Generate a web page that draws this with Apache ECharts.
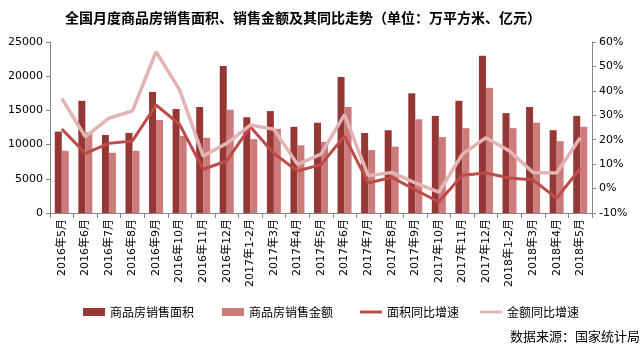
<!DOCTYPE html>
<html><head><meta charset="utf-8">
<script src="https://cdn.jsdelivr.net/npm/echarts@6/dist/echarts.min.js"></script>
<style>html,body{margin:0;padding:0;background:#fff}#c{width:644px;height:350px}</style>
</head><body><div id="c"></div>
<script>
const categories = ['2016年5月','2016年6月','2016年7月','2016年8月','2016年9月','2016年10月','2016年11月','2016年12月','2017年1-2月','2017年3月','2017年4月','2017年5月','2017年6月','2017年7月','2017年8月','2017年9月','2017年10月','2017年11月','2017年12月','2018年1-2月','2018年3月','2018年4月','2018年5月'];
const areaValues = [11900,16400,11400,11700,17700,15200,15500,21500,14000,14900,12600,13200,19900,11700,12100,17500,14200,16400,23000,14600,15500,12100,14200];
const amountValues = [9100,11800,8800,9100,13600,11300,11000,15100,10800,12300,9900,10400,15500,9200,9700,13700,11100,12400,18300,12400,13200,10500,12600];
const areaGrowth = [24.4,14.4,18.5,19.5,34.2,26.3,7.9,11.3,25.3,14.4,7.2,9.8,21.5,2.3,4.6,-0.5,-5.5,5.5,6.4,4.3,3.5,-3.9,8.2];
const amountGrowth = [36.9,21.2,28.8,31.8,56.0,40.4,13.3,18.5,26.0,24.3,9.9,14.1,30.3,5.3,6.6,2.3,-1.5,14.1,20.8,15.4,6.6,6.4,20.8];
const leftTicks = {min:0, max:25000, interval:5000};
const rightTicks = {min:-10, max:60, interval:10};

const FONT = 'DejaVu Sans, Noto Sans CJK SC, sans-serif';
const CJK = 'Noto Sans CJK SC, sans-serif';
const axisCol = '#868686';
const chart = echarts.init(document.getElementById('c'), null, {renderer:'canvas'});
chart.setOption({
  animation:false,
  title:{text:'全国月度商品房销售面积、销售金额及其同比走势（单位：万平方米、亿元）', left:60, top:6,
    textStyle:{fontFamily:CJK, fontSize:14, fontWeight:'bold', color:'#000'}},
  grid:{left:50, right:52, top:42, bottom:137},
  legend:[
    {data:['商品房销售面积','商品房销售金额'], left:78, top:301, itemWidth:22, itemHeight:8, itemGap:28, icon:'rect',
     textStyle:{fontFamily:CJK, fontSize:12, color:'#000'}},
    {data:['面积同比增速','金额同比增速'], left:355, top:301, itemWidth:22, itemHeight:3, itemGap:21, icon:'rect',
     textStyle:{fontFamily:CJK, fontSize:12, color:'#000'}}
  ],
  graphic:[{type:'text', right:4, top:330, style:{text:'数据来源：国家统计局', font:'13px "Noto Sans CJK SC"', fill:'#000'}}],
  xAxis:{type:'category', data:categories, boundaryGap:true,
    axisLine:{lineStyle:{color:axisCol}}, axisTick:{show:true, length:5, lineStyle:{color:axisCol}},
    axisLabel:{rotate:90, interval:0, fontFamily:FONT, fontSize:11, color:'#000', margin:6}},
  yAxis:[
    {type:'value', min:leftTicks.min, max:leftTicks.max, interval:leftTicks.interval, splitLine:{show:false},
     axisLine:{show:true, lineStyle:{color:axisCol}}, axisTick:{show:true, length:4, lineStyle:{color:axisCol}},
     axisLabel:{fontFamily:FONT, fontSize:11, color:'#000', margin:7, formatter:v => String(v)}},
    {type:'value', min:rightTicks.min, max:rightTicks.max, interval:rightTicks.interval, splitLine:{show:false},
     axisLine:{show:true, lineStyle:{color:axisCol}}, axisTick:{show:true, length:4, lineStyle:{color:axisCol}},
     axisLabel:{fontFamily:FONT, fontSize:11, color:'#000', margin:7, formatter:'{value}%'}}
  ],
  series:[
    {name:'商品房销售面积', type:'bar', data:areaValues, barWidth:7, barGap:'0%', itemStyle:{color:'#953735'}},
    {name:'商品房销售金额', type:'bar', data:amountValues, barWidth:7, barGap:'0%', itemStyle:{color:'#cd7b7a'}},
    {name:'面积同比增速', type:'line', yAxisIndex:1, data:areaGrowth, symbol:'none', lineStyle:{color:'#be4b48', width:3}, itemStyle:{color:'#be4b48'}},
    {name:'金额同比增速', type:'line', yAxisIndex:1, data:amountGrowth, symbol:'none', lineStyle:{color:'#e2b4b3', width:3.5}, itemStyle:{color:'#e2b4b3'}}
  ]
});
</script></body></html>
